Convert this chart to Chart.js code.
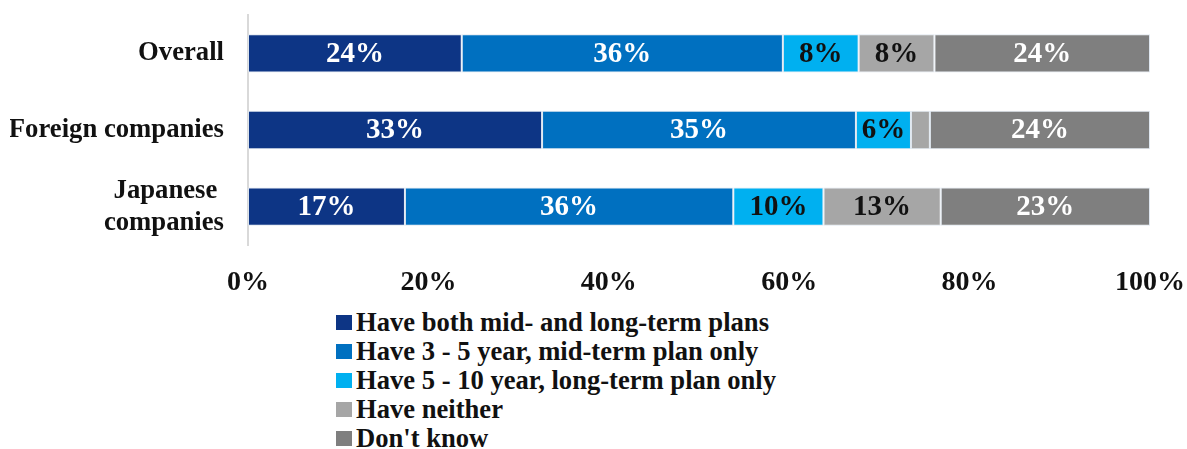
<!DOCTYPE html>
<html>
<head>
<meta charset="utf-8">
<script src="https://cdn.jsdelivr.net/npm/chart.js@4/dist/chart.umd.min.js"></script>
<style>
  html, body { margin: 0; padding: 0; background: #fff; }
  #wrap { position: relative; width: 1187px; height: 449px; }
  #box { position: absolute; left: 0; top: 0; width: 1187px; height: 297px; }
  #legend { position: absolute; left: 336px; top: 308px; margin: 0; padding: 0; list-style: none;
    font: bold 26.6px "Liberation Serif", "Times New Roman", serif; color: #111; }
  #legend li { height: 29px; line-height: 29px; display: flex; align-items: center; white-space: nowrap; }
  #legend span { display: inline-block; width: 16px; height: 15px; margin-right: 4px; }
</style>
</head>
<body>
<div id="wrap">
  <div id="box"><canvas id="planChart"></canvas></div>
  <ul id="legend"></ul>
</div>
<script>
// categories and series (share of respondents, %)
const groups = ['Overall', 'Foreign companies', ['Japanese ', 'companies']];
const seriesNames = [
  'Have both mid- and long-term plans',
  'Have 3 - 5 year, mid-term plan only',
  'Have 5 - 10 year, long-term plan only',
  'Have neither',
  "Don't know",
];
const bothPlans    = [23.7, 32.6, 17.4];
const midTermOnly  = [35.6, 34.8, 36.4];
const longTermOnly = [8.4, 6.1, 10.0];
const neither      = [8.4, 2.1, 13.0];
const dontKnow     = [23.9, 24.4, 23.2];
const xTicks = [0, 20, 40, 60, 80, 100];

const colors     = ['#0D3585', '#0070C0', '#00B0F0', '#A6A6A6', '#7F7F7F'];
const textColors = ['#fff', '#fff', '#111', '#111', '#fff'];
const serif = '"Liberation Serif", "Times New Roman", serif';

const datasets = [bothPlans, midTermOnly, longTermOnly, neither, dontKnow].map((data, i) => ({
  label: seriesNames[i],
  data,
  backgroundColor: colors[i],
  borderColor: 'rgba(220,228,238,0.9)',
  borderWidth: 1,
  borderSkipped: false,
  barPercentage: 0.5,
  categoryPercentage: 1,
}));

// value labels centred in each segment, small slivers left unlabelled
const segmentLabels = {
  id: 'segmentLabels',
  afterDatasetsDraw(chart) {
    const { ctx } = chart;
    ctx.save();
    ctx.font = 'bold 29px ' + serif;
    ctx.textAlign = 'center';
    ctx.textBaseline = 'middle';
    chart.data.datasets.forEach((ds, i) => {
      chart.getDatasetMeta(i).data.forEach((bar, j) => {
        const v = ds.data[j];
        if (v < 3) return;
        const { x, base, y } = bar.getProps(['x', 'base', 'y'], true);
        ctx.fillStyle = textColors[i];
        ctx.fillText(Math.round(v) + '%', (x + base) / 2, y + 1);
      });
    });
    ctx.restore();
  },
};

const chart = new Chart(document.getElementById('planChart'), {
  type: 'bar',
  data: { labels: groups, datasets },
  plugins: [segmentLabels],
  options: {
    indexAxis: 'y',
    responsive: true,
    maintainAspectRatio: false,
    animation: false,
    layout: { padding: { top: 15, right: 0, left: 10, bottom: 0 } },
    plugins: { legend: { display: false }, tooltip: { enabled: false } },
    scales: {
      x: {
        stacked: true,
        min: 0,
        max: 100,
        afterBuildTicks: axis => { axis.ticks = xTicks.map(v => ({ value: v })); },
        afterFit: axis => { axis.paddingLeft = 0; axis.paddingRight = 37; axis.height = 52; },
        grid: { display: false, drawTicks: false },
        border: { display: false },
        ticks: {
          padding: 21,
          color: '#111',
          font: { family: serif, size: 28, weight: 'bold' },
          callback: v => v + '%',
        },
      },
      y: {
        stacked: true,
        afterFit: axis => { axis.paddingTop = 0; axis.paddingBottom = 0; axis.width = 238; },
        grid: { display: false, drawTicks: false },
        border: { display: true, color: '#D9D9D9', width: 2 },
        ticks: {
          autoSkip: false,
          padding: 24,
          color: '#111',
          font: { family: serif, size: 26.7, weight: 'bold', lineHeight: 1.2 },
        },
      },
    },
  },
});

// legend list built from the chart's datasets
const legend = document.getElementById('legend');
chart.data.datasets.forEach(ds => {
  const li = document.createElement('li');
  const sw = document.createElement('span');
  sw.style.background = ds.backgroundColor;
  li.appendChild(sw);
  li.appendChild(document.createTextNode(ds.label));
  legend.appendChild(li);
});
</script>
</body>
</html>
